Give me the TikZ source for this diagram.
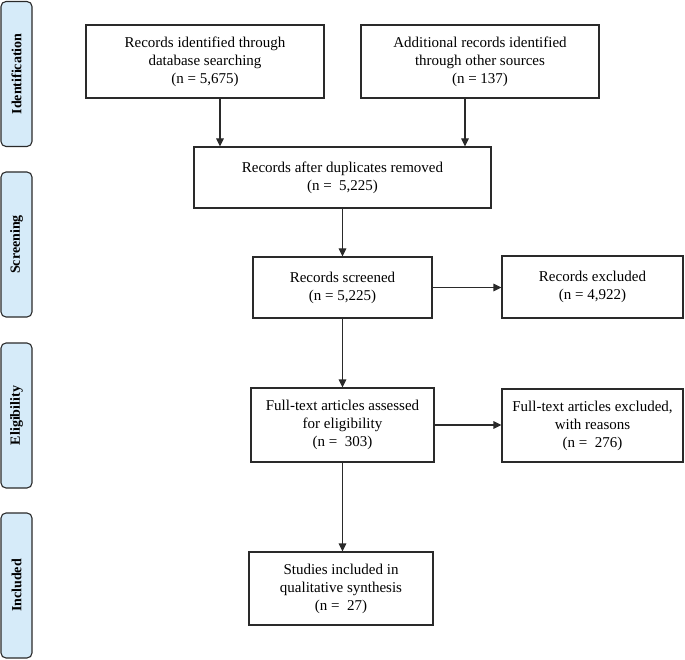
\documentclass[tikz,border=0pt]{standalone}
\usepackage{fontspec}
\setmainfont{Liberation Serif}
\usetikzlibrary{arrows.meta}
\definecolor{sidefill}{HTML}{D6EBF9}
\definecolor{lineclr}{HTML}{2A2A2A}
\tikzset{
  box/.style={draw=lineclr, line width=1.1pt, fill=white, align=center, inner sep=0pt,
    font=\fontsize{15}{18}\selectfont},
  side/.style={draw=lineclr, line width=1.1pt, fill=sidefill, rounded corners=5pt,
    minimum width=31pt, minimum height=145pt, inner sep=0pt},
  sidetext/.style={rotate=90, font=\fontsize{14}{18}\selectfont\bfseries},
  arr/.style={draw=lineclr, line width=1.1pt, -{Triangle[length=8pt,width=7.5pt]}}
}
\begin{document}
\begin{tikzpicture}[x=1pt,y=-1pt]
\useasboundingbox (0,0) rectangle (685,660);
% side labels
\node[side] (s1) at (16.5,74) {};
\node[sidetext] (t1) at (s1.center) {Identification};
\node[side] (s2) at (16.5,244.5) {};
\node[sidetext] (t2) at (s2.center) {Screening};
\node[side] (s3) at (16.5,415.5) {};
\node[sidetext] (t3) at (s3.center) {Eligibility};
\node[side] (s4) at (16.5,585.5) {};
\node[sidetext] (t4) at (s4.center) {Included};
% boxes
\node[box, minimum width=238pt, minimum height=73pt] (A) at (205,61.5)
  {Records identified through\\database searching\\(n = 5,675)};
\node[box, minimum width=238pt, minimum height=73pt] (B) at (480,61.5)
  {Additional records identified\\through other sources\\(n = 137)};
\node[box, minimum width=297pt, minimum height=61pt] (C) at (342.5,177.5)
  {Records after duplicates removed\\(n =\ \ 5,225)};
\node[box, minimum width=179pt, minimum height=61pt] (D) at (342.5,287.5)
  {Records screened\\(n = 5,225)};
\node[box, minimum width=181pt, minimum height=62pt] (E) at (592.5,287)
  {Records excluded\\(n = 4,922)};
\node[box, minimum width=183pt, minimum height=74pt] (F) at (342.5,425)
  {Full-text articles assessed\\for eligibility\\(n =\ \ 303)};
\node[box, minimum width=181pt, minimum height=73pt] (G) at (592.5,425.5)
  {Full-text articles excluded,\\with reasons\\(n =\ \ 276)};
\node[box, minimum width=184pt, minimum height=73pt] (H) at (341,588.5)
  {Studies included in\\qualitative synthesis\\(n =\ \ 27)};
% connectors
\draw[arr] ([xshift=15pt]A.south) -- ([xshift=15pt]A.south |- C.north);
\draw[arr] ([xshift=-15pt]B.south) -- ([xshift=-15pt]B.south |- C.north);
\draw[arr] (C.south) -- (D.north);
\draw[arr] (D.east) -- (D.east -| E.west);
\draw[arr] (D.south) -- (F.north);
\draw[arr] (F.east) -- (F.east -| G.west);
\draw[arr] (F.south) -- (F.south |- H.north);
\end{tikzpicture}
\end{document}
